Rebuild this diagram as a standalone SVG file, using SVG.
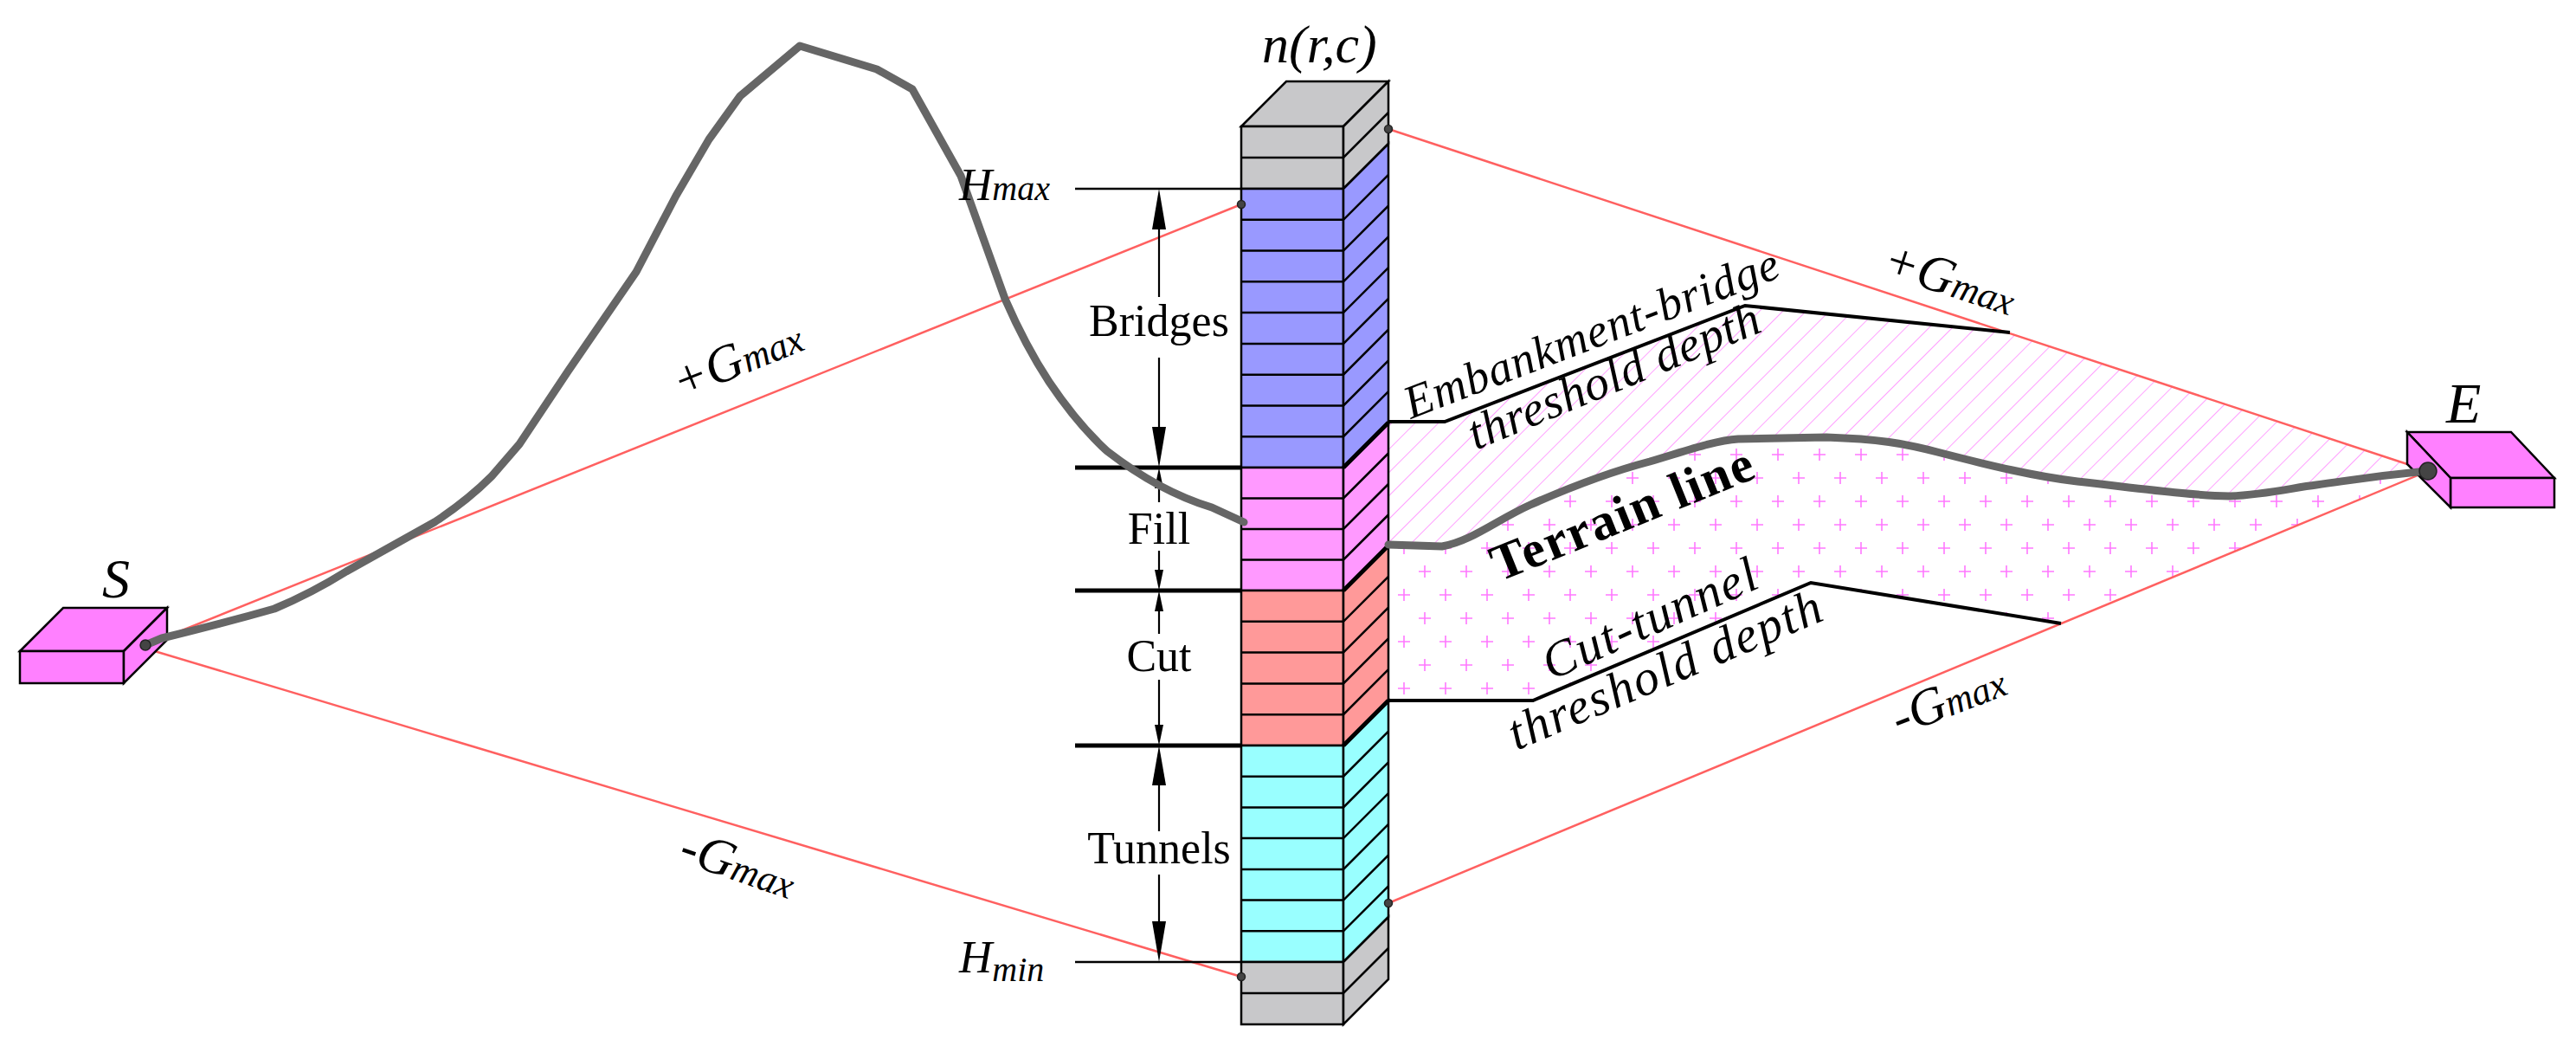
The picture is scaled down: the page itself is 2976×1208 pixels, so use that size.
<svg xmlns="http://www.w3.org/2000/svg" width="2976" height="1208" viewBox="0 0 2976 1208">
<style>
.t{font-family:"Liberation Serif","Times New Roman",serif;fill:#000}
.i{font-style:italic}
.red{stroke:#ff6060;stroke-width:2.5;fill:none}
.blk{stroke:#000;stroke-width:2.5;fill:none}
.thk{stroke:#000;stroke-width:5;fill:none}
.thr{stroke:#000;stroke-width:4;fill:none;stroke-linejoin:miter}
.seg{stroke:#000;stroke-width:2.5;stroke-linejoin:miter}
.terr{stroke:#666;stroke-width:9;fill:none;stroke-linejoin:round;stroke-linecap:round}
.dot{fill:#444;stroke:#222;stroke-width:1.5}
</style>
<defs>
<pattern id="hatch" width="19" height="19" patternUnits="userSpaceOnUse" patternTransform="rotate(45)">
<line x1="0" y1="0" x2="0" y2="19" stroke="#ff88ff" stroke-width="1.6"/>
</pattern>
<pattern id="cross" width="48" height="54" patternUnits="userSpaceOnUse" x="1610" y="620">
<path d="M5,13h14M12,6v14M29,40h14M36,33v14" stroke="#ff77ff" stroke-width="1.6" fill="none"/>
</pattern>
</defs>
<rect width="2976" height="1208" fill="#fff"/>

<g id="zones">
<path d="M1604,487 L1669,487 L2016,353 L2322,384 L2781,536 L2759,548 L2676,560 L2576,573 L2400,556 L2238,522 L2110,505 L2008,507 L1906,533 L1768,583 L1666,631 L1604,629 Z" fill="url(#hatch)"/>
<path d="M1604,629 L1666,631 L1768,583 L1906,533 L2008,507 L2110,505 L2238,522 L2400,556 L2576,573 L2676,560 L2759,548 L2805,544 L2381,720 L2092,673 L1771,809 L1604,809 Z" fill="url(#cross)"/>
</g>

<g id="connectors">
<line class="red" x1="168" y1="745" x2="1434" y2="236"/>
<line class="red" x1="172" y1="750" x2="1434" y2="1128"/>
<line class="red" x1="1604" y1="149" x2="2781" y2="536"/>
<line class="red" x1="1604" y1="1043" x2="2805" y2="544"/>
<polyline class="thr" points="1604,487 1669,487 2016,353 2322,384"/>
<polyline class="thr" points="1604,809 1771,809 2092,673 2381,720"/>
</g>

<g id="dimensions">
<line class="blk" x1="1242" y1="218" x2="1434" y2="218"/>
<line class="blk" x1="1242" y1="1111" x2="1434" y2="1111"/>
<line class="thk" x1="1242" y1="540" x2="1552" y2="540"/>
<line class="thk" x1="1242" y1="682" x2="1552" y2="682"/>
<line class="thk" x1="1242" y1="861" x2="1552" y2="861"/>
<g stroke="#000" stroke-width="2.2">
<line x1="1339" y1="260" x2="1339" y2="343"/>
<line x1="1339" y1="413" x2="1339" y2="498"/>
<line x1="1339" y1="560" x2="1339" y2="580"/>
<line x1="1339" y1="636" x2="1339" y2="660"/>
<line x1="1339" y1="702" x2="1339" y2="732"/>
<line x1="1339" y1="785" x2="1339" y2="840"/>
<line x1="1339" y1="903" x2="1339" y2="960"/>
<line x1="1339" y1="1010" x2="1339" y2="1066"/>
</g>
<g fill="#000">
<polygon points="1339,218 1331,265 1347,265"/>
<polygon points="1339,540 1331,493 1347,493"/>
<polygon points="1339,540 1334,564 1344,564"/>
<polygon points="1339,682 1334,658 1344,658"/>
<polygon points="1339,682 1334,706 1344,706"/>
<polygon points="1339,861 1334,837 1344,837"/>
<polygon points="1339,861 1331,907 1347,907"/>
<polygon points="1339,1111 1331,1064 1347,1064"/>
</g>
</g>

<g id="column">
<polygon points="1434,146 1486,94 1604,94 1552,146" fill="#c8c8ca" class="seg"/>
<rect x="1434" y="146" width="118" height="72" fill="#c8c8ca" class="seg"/>
<polygon points="1552,146 1604,94 1604,166 1552,218" fill="#c8c8ca" class="seg"/>
<rect x="1434" y="218" width="118" height="322" fill="#9999ff" class="seg"/>
<polygon points="1552,218 1604,166 1604,488 1552,540" fill="#9999ff" class="seg"/>
<rect x="1434" y="540" width="118" height="142" fill="#ff99ff" class="seg"/>
<polygon points="1552,540 1604,488 1604,630 1552,682" fill="#ff99ff" class="seg"/>
<rect x="1434" y="682" width="118" height="179" fill="#ff9999" class="seg"/>
<polygon points="1552,682 1604,630 1604,809 1552,861" fill="#ff9999" class="seg"/>
<rect x="1434" y="861" width="118" height="250" fill="#99ffff" class="seg"/>
<polygon points="1552,861 1604,809 1604,1059 1552,1111" fill="#99ffff" class="seg"/>
<rect x="1434" y="1111" width="118" height="72" fill="#c8c8ca" class="seg"/>
<polygon points="1552,1111 1604,1059 1604,1131 1552,1183" fill="#c8c8ca" class="seg"/>
<path stroke="#000" stroke-width="2.5" fill="none" d="
M1434,182H1552l52,-52
M1434,253.8H1552l52,-52 M1434,289.6H1552l52,-52 M1434,325.3H1552l52,-52 M1434,361.1H1552l52,-52
M1434,396.9H1552l52,-52 M1434,432.7H1552l52,-52 M1434,468.4H1552l52,-52 M1434,504.2H1552l52,-52
M1434,575.5H1552l52,-52 M1434,611H1552l52,-52 M1434,646.5H1552l52,-52
M1434,717.8H1552l52,-52 M1434,753.6H1552l52,-52 M1434,789.4H1552l52,-52 M1434,825.2H1552l52,-52
M1434,896.7H1552l52,-52 M1434,932.4H1552l52,-52 M1434,968.1H1552l52,-52 M1434,1003.9H1552l52,-52
M1434,1039.6H1552l52,-52 M1434,1075.3H1552l52,-52
M1434,1147H1552l52,-52"/>
<path stroke="#000" stroke-width="5" fill="none" d="M1552,540l52,-52 M1552,682l52,-52 M1552,861l52,-52"/>
</g>

<g id="S">
<polygon points="23,752 73,702 193,702 143,752" fill="#ff80ff" class="seg"/>
<rect x="23" y="752" width="120" height="37" fill="#ff80ff" class="seg"/>
<polygon points="143,752 193,702 193,739 143,789" fill="#ff80ff" class="seg"/>
<text class="t i" x="118" y="690" font-size="64">S</text>
</g>

<g id="E">
<polygon points="2781,499 2901,499 2951,552 2831,552" fill="#ff80ff" class="seg"/>
<rect x="2831" y="552" width="120" height="34" fill="#ff80ff" class="seg"/>
<polygon points="2781,499 2831,552 2831,586 2781,536" fill="#ff80ff" class="seg"/>
<text class="t i" x="2826" y="488" font-size="66">E</text>
</g>

<g id="terrain">
<path class="terr" d="M168,745 L187,737 Q250,722 317,703 Q360,685 400,660 L502,603 Q540,578 568,550 L600,513 L656,429 L735,314 L781,226 L819,161 L855,111 L924,53 L1013,80 L1054,103 L1110,203 L1161,345 Q1185,400 1212,441 Q1245,490 1279,521 Q1340,568 1400,586 L1437,603"/>
<path class="terr" d="M1604,629 L1666,631 C1700,625 1730,600 1768,583 C1820,560 1860,545 1906,533 C1950,520 1980,509 2008,507 L2110,505 C2170,507 2200,512 2238,522 C2300,538 2350,550 2400,556 C2480,565 2530,572 2576,573 C2620,571 2650,563 2676,560 C2720,554 2740,550 2805,544"/>
</g>

<g id="dots">
<circle class="dot" cx="168" cy="745" r="6"/>
<circle class="dot" cx="2805" cy="544" r="10"/>
<circle class="dot" cx="1434" cy="236" r="4.5"/>
<circle class="dot" cx="1604" cy="149" r="4.5"/>
<circle class="dot" cx="1434" cy="1128" r="4.5"/>
<circle class="dot" cx="1604" cy="1043" r="4.5"/>
</g>

<g id="labels">
<text class="t i" x="1458" y="72" font-size="62">n(r,c)</text>
<text class="t i" x="1108" y="231" font-size="53">H<tspan font-size="40">max</tspan></text>
<text class="t i" x="1108" y="1123" font-size="53">H<tspan font-size="40" dy="10">min</tspan></text>
<text class="t" x="1339" y="388" font-size="52" text-anchor="middle">Bridges</text>
<text class="t" x="1339" y="628" font-size="52" text-anchor="middle">Fill</text>
<text class="t" x="1339" y="775" font-size="52" text-anchor="middle">Cut</text>
<text class="t" x="1339" y="997" font-size="52" text-anchor="middle">Tunnels</text>
<text class="t i" font-size="60" transform="translate(786,462) rotate(-22)">+G<tspan font-size="44">max</tspan></text>
<text class="t i" font-size="60" transform="translate(782,994) rotate(19)">-G<tspan font-size="44">max</tspan></text>
<text class="t i" font-size="60" transform="translate(2172,316) rotate(18)">+G<tspan font-size="44">max</tspan></text>
<text class="t i" font-size="60" transform="translate(2194,850) rotate(-21)">-G<tspan font-size="44">max</tspan></text>
<text class="t i" font-size="54" textLength="460" transform="translate(1630,484) rotate(-21)">Embankment-bridge</text>
<text class="t i" font-size="56" textLength="360" transform="translate(1705,520) rotate(-22.5)">threshold depth</text>
<text class="t" font-size="60" font-weight="bold" textLength="322" transform="translate(1732,672) rotate(-22)">Terrain line</text>
<text class="t i" font-size="58" textLength="266" transform="translate(1792,786) rotate(-24)">Cut-tunnel</text>
<text class="t i" font-size="58" textLength="388" transform="translate(1752,867) rotate(-23)">threshold depth</text>
</g>
</svg>
